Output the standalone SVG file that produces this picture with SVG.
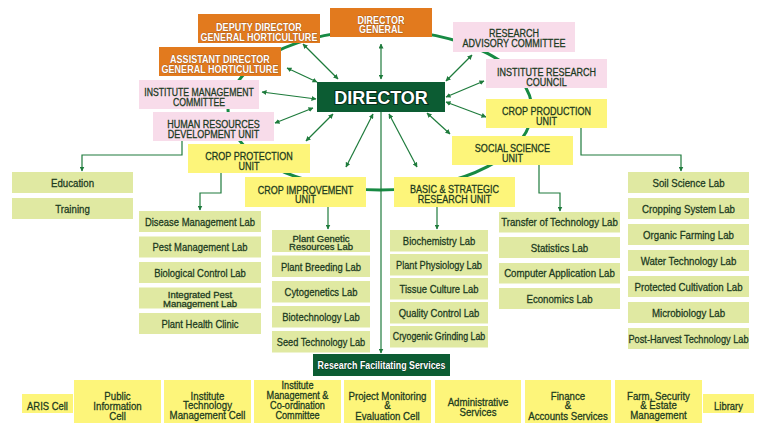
<svg xmlns="http://www.w3.org/2000/svg" width="758" height="447" viewBox="0 0 758 447">
<style>
text{font-family:"Liberation Sans",Arial,sans-serif;text-anchor:middle;fill:#1b3a1e;font-size:11px;stroke:#1b3a1e;stroke-width:0.3}
.or{fill:#e27a1e}
.pk{fill:#f8dcea}
.ye{fill:#fdf57a}
.lg{fill:#e0e9a2}
.dg{fill:#0c5c33}
text.wt{fill:#fff;font-weight:bold;stroke:#8a450e;stroke-width:0.6;paint-order:stroke}
text.lab{font-size:11.8px}
text.bt{font-size:11.8px}
text.sm{font-size:9.5px}
.ln{fill:none;stroke:#1e7b3c;stroke-width:1.2}
.ring{fill:none;stroke:#178a43;stroke-width:3}
</style>
<defs>
<marker id="ah" viewBox="0 0 10 10" refX="9" refY="5" markerWidth="5" markerHeight="5" markerUnits="userSpaceOnUse" orient="auto-start-reverse"><path d="M0,0 L10,5 L0,10 z" fill="#1e7b3c"/></marker>
</defs>
<rect width="758" height="447" fill="#fff"/>
<ellipse class="ring" cx="380" cy="110" rx="152" ry="80"/>
<g id="connectors">
<path class="ln" marker-start="url(#ah)" marker-end="url(#ah)" d="M381,44 L381,79"/>
<path class="ln" marker-start="url(#ah)" marker-end="url(#ah)" d="M303,44 L338,79"/>
<path class="ln" marker-start="url(#ah)" marker-end="url(#ah)" d="M287,68 L317,82"/>
<path class="ln" marker-start="url(#ah)" marker-end="url(#ah)" d="M262,92 L316,99"/>
<path class="ln" marker-start="url(#ah)" marker-end="url(#ah)" d="M275,123 L313,108"/>
<path class="ln" marker-start="url(#ah)" marker-end="url(#ah)" d="M306,141 L333,114"/>
<path class="ln" marker-start="url(#ah)" marker-end="url(#ah)" d="M373,114 L346,167"/>
<path class="ln" marker-end="url(#ah)" d="M381,112 L381,353"/>
<path class="ln" marker-start="url(#ah)" marker-end="url(#ah)" d="M389,114 L417,167"/>
<path class="ln" marker-start="url(#ah)" marker-end="url(#ah)" d="M427,113 L450,134"/>
<path class="ln" marker-start="url(#ah)" marker-end="url(#ah)" d="M446,102 L486,117"/>
<path class="ln" marker-start="url(#ah)" marker-end="url(#ah)" d="M446,97 L484,81"/>
<path class="ln" marker-start="url(#ah)" marker-end="url(#ah)" d="M446,81 L472,55"/>
<path class="ln" marker-end="url(#ah)" d="M182,141 V155 H82 V171"/>
<path class="ln" marker-end="url(#ah)" d="M221,173 V193 H200 V210"/>
<path class="ln" marker-end="url(#ah)" d="M328,207 V229"/>
<path class="ln" marker-end="url(#ah)" d="M437,207 V229"/>
<path class="ln" marker-end="url(#ah)" d="M539,165 V193 H560 V211"/>
<path class="ln" marker-end="url(#ah)" d="M581,128 V155 H681 V171"/>
</g>
<g id="director"><rect class="dg" x="317" y="82" width="128" height="30"/><text x="381" y="104" style="font-size:18px;font-weight:bold;fill:#fff;stroke:#04301a;stroke-width:2;paint-order:stroke">DIRECTOR</text></g>
<g id="dg"><rect class="or" x="330" y="8" width="102" height="29"/><text class="wt" transform="matrix(.82 0 0 1 381 0)" x="0" y="24">DIRECTOR<tspan x="0" dy="9.5">GENERAL</tspan></text></g>
<g id="ddg"><rect class="or" x="198" y="14" width="122" height="29"/><text class="wt" transform="matrix(.82 0 0 1 259 0)" x="0" y="31">DEPUTY  DIRECTOR<tspan x="0" dy="10">GENERAL HORTICULTURE</tspan></text></g>
<g id="adg"><rect class="or" x="159" y="47" width="122" height="29"/><text class="wt" transform="matrix(.82 0 0 1 220 0)" x="0" y="63.5">ASSISTANT DIRECTOR<tspan x="0" dy="9.5">GENERAL HORTICULTURE</tspan></text></g>
<g id="imc"><rect class="pk" x="139" y="80" width="120" height="29"/><text transform="matrix(.79 0 0 1 199 0)" x="0" y="96.5">INSTITUTE MANAGEMENT<tspan x="0" dy="10">COMMITTEE</tspan></text></g>
<g id="hrd"><rect class="pk" x="153" y="112" width="121" height="29"/><text transform="matrix(.82 0 0 1 213.5 0)" x="0" y="128.5">HUMAN RESOURCES<tspan x="0" dy="9.5">DEVELOPMENT UNIT</tspan></text></g>
<g id="rac"><rect class="pk" x="453" y="22" width="122" height="30"/><text transform="matrix(.82 0 0 1 514 0)" x="0" y="37">RESEARCH<tspan x="0" dy="10">ADVISORY COMMITTEE</tspan></text></g>
<g id="irc"><rect class="pk" x="486" y="59" width="121" height="29"/><text transform="matrix(.82 0 0 1 546.5 0)" x="0" y="76">INSTITUTE RESEARCH<tspan x="0" dy="10">COUNCIL</tspan></text></g>
<g id="cpu"><rect class="ye" x="486" y="99" width="121" height="29"/><text transform="matrix(.82 0 0 1 546.5 0)" x="0" y="115">CROP PRODUCTION<tspan x="0" dy="10">UNIT</tspan></text></g>
<g id="ssu"><rect class="ye" x="452" y="136" width="121" height="29"/><text transform="matrix(.82 0 0 1 512.5 0)" x="0" y="152">SOCIAL SCIENCE<tspan x="0" dy="10">UNIT</tspan></text></g>
<g id="bsru"><rect class="ye" x="394" y="177" width="121" height="30"/><text transform="matrix(.82 0 0 1 454.5 0)" x="0" y="193">BASIC &amp; STRATEGIC<tspan x="0" dy="10">RESEARCH UNIT</tspan></text></g>
<g id="cprot"><rect class="ye" x="188" y="144" width="122" height="29"/><text transform="matrix(.82 0 0 1 249 0)" x="0" y="160.5">CROP PROTECTION<tspan x="0" dy="9.5">UNIT</tspan></text></g>
<g id="cimp"><rect class="ye" x="245" y="177" width="121" height="30"/><text transform="matrix(.82 0 0 1 305.5 0)" x="0" y="194">CROP IMPROVEMENT<tspan x="0" dy="9.5">UNIT</tspan></text></g>
<g id="education"><rect class="lg" x="12" y="172" width="121" height="21"/><text class="lab" transform="matrix(.82 0 0 1 72.5 0)" x="0" y="187">Education</text></g>
<g id="training"><rect class="lg" x="12" y="198" width="121" height="21"/><text class="lab" transform="matrix(.82 0 0 1 72.5 0)" x="0" y="213">Training</text></g>
<g id="cp-labs">
<rect class="lg" x="139" y="211" width="122" height="21"/><text class="lab" transform="matrix(.8 0 0 1 200 0)" x="0" y="226">Disease Management Lab</text>
<rect class="lg" x="139" y="236.5" width="122" height="21"/><text class="lab" transform="matrix(.8 0 0 1 200 0)" x="0" y="251.5">Pest Management Lab</text>
<rect class="lg" x="139" y="262" width="122" height="21"/><text class="lab" transform="matrix(.8 0 0 1 200 0)" x="0" y="277">Biological Control Lab</text>
<rect class="lg" x="139" y="287.5" width="122" height="21"/><text class="sm" x="200" y="298">Integrated Pest<tspan x="200" dy="9">Management Lab</tspan></text>
<rect class="lg" x="139" y="313" width="122" height="21"/><text class="lab" transform="matrix(.8 0 0 1 200 0)" x="0" y="328">Plant Health Clinic</text>
</g>
<g id="ci-labs">
<rect class="lg" x="272" y="230" width="98" height="22"/><text class="sm" x="321" y="241.5">Plant Genetic<tspan x="321" dy="8.5">Resources Lab</tspan></text>
<rect class="lg" x="272" y="255.5" width="98" height="21.5"/><text class="lab" transform="matrix(.8 0 0 1 321 0)" x="0" y="271">Plant Breeding Lab</text>
<rect class="lg" x="272" y="281" width="98" height="21.5"/><text class="lab" transform="matrix(.8 0 0 1 321 0)" x="0" y="296.5">Cytogenetics Lab</text>
<rect class="lg" x="272" y="306" width="98" height="21.5"/><text class="lab" transform="matrix(.8 0 0 1 321 0)" x="0" y="321.5">Biotechnology Lab</text>
<rect class="lg" x="272" y="331" width="98" height="21.5"/><text class="lab" transform="matrix(.78 0 0 1 321 0)" x="0" y="346.5">Seed Technology Lab</text>
</g>
<g id="bs-labs">
<rect class="lg" x="390" y="230" width="98" height="21.5"/><text class="lab" transform="matrix(.8 0 0 1 439 0)" x="0" y="245.5">Biochemistry Lab</text>
<rect class="lg" x="390" y="254" width="98" height="21.5"/><text class="lab" transform="matrix(.78 0 0 1 439 0)" x="0" y="269.5">Plant Physiology Lab</text>
<rect class="lg" x="390" y="278" width="98" height="21.5"/><text class="lab" transform="matrix(.8 0 0 1 439 0)" x="0" y="293.5">Tissue Culture Lab</text>
<rect class="lg" x="390" y="302" width="98" height="21.5"/><text class="lab" transform="matrix(.8 0 0 1 439 0)" x="0" y="317.5">Quality Control Lab</text>
<rect class="lg" x="390" y="326" width="98" height="21.5"/><text class="sm" transform="matrix(.88 0 0 1 439 0)" x="0" y="340.5" style="font-size:10px">Cryogenic Grinding Lab</text>
</g>
<g id="ss-labs">
<rect class="lg" x="499" y="212" width="121" height="20.5"/><text class="lab" transform="matrix(.82 0 0 1 559.5 0)" x="0" y="226.5">Transfer of Technology Lab</text>
<rect class="lg" x="499" y="237" width="121" height="21"/><text class="lab" transform="matrix(.82 0 0 1 559.5 0)" x="0" y="252">Statistics Lab</text>
<rect class="lg" x="499" y="263" width="121" height="20.5"/><text class="lab" transform="matrix(.82 0 0 1 559.5 0)" x="0" y="277.5">Computer Application Lab</text>
<rect class="lg" x="499" y="288" width="121" height="21"/><text class="lab" transform="matrix(.82 0 0 1 559.5 0)" x="0" y="303">Economics Lab</text>
</g>
<g id="cpr-labs">
<rect class="lg" x="628" y="172" width="121" height="21"/><text class="lab" transform="matrix(.82 0 0 1 688.5 0)" x="0" y="187">Soil Science Lab</text>
<rect class="lg" x="628" y="198" width="121" height="21"/><text class="lab" transform="matrix(.82 0 0 1 688.5 0)" x="0" y="213">Cropping System Lab</text>
<rect class="lg" x="628" y="224" width="121" height="21"/><text class="lab" transform="matrix(.82 0 0 1 688.5 0)" x="0" y="239">Organic Farming Lab</text>
<rect class="lg" x="628" y="250" width="121" height="21"/><text class="lab" transform="matrix(.82 0 0 1 688.5 0)" x="0" y="265">Water Technology Lab</text>
<rect class="lg" x="628" y="276" width="121" height="21"/><text class="lab" transform="matrix(.82 0 0 1 688.5 0)" x="0" y="291">Protected Cultivation Lab</text>
<rect class="lg" x="628" y="302" width="121" height="21"/><text class="lab" transform="matrix(.82 0 0 1 688.5 0)" x="0" y="317">Microbiology Lab</text>
<rect class="lg" x="628" y="328" width="121" height="21"/><text class="lab" transform="matrix(.78 0 0 1 688.5 0)" x="0" y="343">Post-Harvest Technology Lab</text>
</g>
<g id="rfs"><rect class="dg" x="313" y="354" width="137" height="22"/><text transform="matrix(.82 0 0 1 381.5 0)" x="0" y="369" style="fill:#fff;font-weight:bold;font-size:10.8px;stroke:#04301a;stroke-width:1;paint-order:stroke">Research Facilitating Services</text></g>
<g id="services">
<rect class="ye" x="22" y="394" width="51" height="19"/><text class="bt" transform="matrix(.8 0 0 1 47.5 0)" x="0" y="410">ARIS Cell</text>
<rect class="ye" x="74" y="380" width="87" height="43"/><text class="bt" transform="matrix(.82 0 0 1 117.5 0)" x="0" y="400">Public<tspan x="0" dy="10">Information</tspan><tspan x="0" dy="10">Cell</tspan></text>
<rect class="ye" x="164" y="380" width="87" height="43"/><text class="bt" transform="matrix(.82 0 0 1 207.5 0)" x="0" y="400">Institute<tspan x="0" dy="9.5">Technology</tspan><tspan x="0" dy="9.5">Management Cell</tspan></text>
<rect class="ye" x="254" y="380" width="87" height="43"/><text transform="matrix(.87 0 0 1 297.5 0)" x="0" y="389.5" style="font-size:10.5px">Institute<tspan x="0" dy="9.7">Management &amp;</tspan><tspan x="0" dy="9.7">Co-ordination</tspan><tspan x="0" dy="9.7">Committee</tspan></text>
<rect class="ye" x="344" y="380" width="87" height="43"/><text class="bt" transform="matrix(.82 0 0 1 387.5 0)" x="0" y="400">Project Monitoring<tspan x="0" dy="9.5">&amp;</tspan><tspan x="0" dy="10.5">Evaluation Cell</tspan></text>
<rect class="ye" x="435" y="380" width="86" height="43"/><text class="bt" transform="matrix(.82 0 0 1 478 0)" x="0" y="406.5">Administrative<tspan x="0" dy="9.5">Services</tspan></text>
<rect class="ye" x="525" y="380" width="86" height="43"/><text class="bt" transform="matrix(.82 0 0 1 568 0)" x="0" y="400">Finance<tspan x="0" dy="9.5">&amp;</tspan><tspan x="0" dy="10.5">Accounts Services</tspan></text>
<rect class="ye" x="615" y="380" width="87" height="43"/><text class="bt" transform="matrix(.82 0 0 1 658.5 0)" x="0" y="400">Farm, Security<tspan x="0" dy="9.5">&amp; Estate</tspan><tspan x="0" dy="10">Management</tspan></text>
<rect class="ye" x="703" y="394" width="51" height="19"/><text class="bt" transform="matrix(.8 0 0 1 728.5 0)" x="0" y="410">Library</text>
</g>
</svg>
